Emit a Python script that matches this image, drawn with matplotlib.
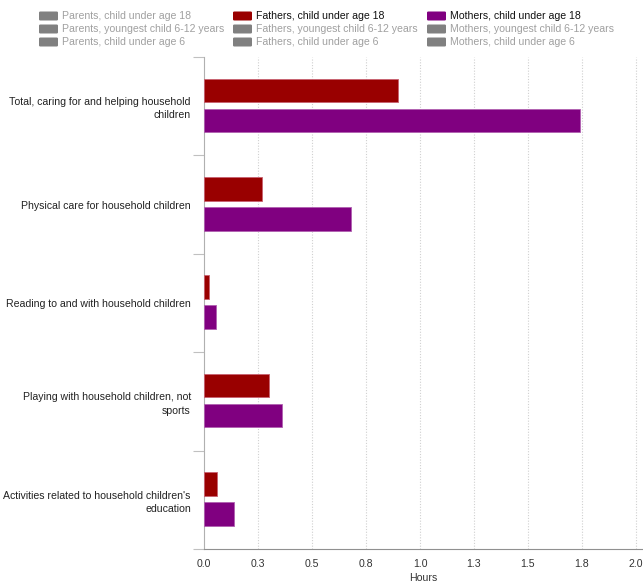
import numpy as np
import matplotlib.pyplot as plt
from matplotlib.patches import FancyBboxPatch

plt.rcParams['font.family'] = ['Liberation Sans', 'DejaVu Sans']

# 数据
categories = [
    'Total, caring for and helping household\nchildren',
    'Physical care for household children',
    'Reading to and with household children',
    'Playing with household children, not\nsports',
    "Activities related to household children's\neducation",
]
fathers = [0.90, 0.27, 0.025, 0.30, 0.06]
mothers = [1.74, 0.68, 0.055, 0.36, 0.14]

x_ticks = [0.0, 0.25, 0.5, 0.75, 1.0, 1.25, 1.5, 1.75, 2.0]
x_tick_labels = ['0.0', '0.3', '0.5', '0.8', '1.0', '1.3', '1.5', '1.8', '2.0']

legend_cols = [
    ['Parents, child under age 18', 'Parents, youngest child 6-12 years', 'Parents, child under age 6'],
    ['Fathers, child under age 18', 'Fathers, youngest child 6-12 years', 'Fathers, child under age 6'],
    ['Mothers, child under age 18', 'Mothers, youngest child 6-12 years', 'Mothers, child under age 6'],
]
legend_active = [[False, False, False], [True, False, False], [True, False, False]]

c_fathers = '#990000'
c_mothers = '#800080'
c_off = '#808080'

W, H = 643, 588
fig = plt.figure(figsize=(W / 100, H / 100), dpi=100)

# 坐标区（像素位置）
left, right, top, bottom = 204, 643, 57, 549
ax = fig.add_axes([left / W, (H - bottom) / H, (right - left) / W, (bottom - top) / H])

y = np.arange(len(categories))
h = 0.24
ax.barh(y - 0.16, fathers, height=h, color=c_fathers, edgecolor='#c86070', linewidth=0.6, zorder=3)
ax.barh(y + 0.145, mothers, height=h, color=c_mothers, edgecolor='#b060b0', linewidth=0.6, zorder=3)

ax.set_xlim(0, (right - left) / 216)
ax.set_ylim(len(categories) - 0.5, -0.5)

# 网格线
for t in x_ticks[1:]:
    ax.axvline(t, color='#d0d0d0', linestyle=(0, (1, 1.5)), linewidth=0.8, zorder=1)

ax.set_xticks(x_ticks)
ax.set_xticklabels(x_tick_labels, fontsize=7.6, color='#333333')
ax.tick_params(axis='x', length=0, pad=7)
ax.set_xlabel('Hours', fontsize=7.6, color='#333333', labelpad=3)

# 类别分隔刻度
ax.set_yticks(np.arange(len(categories) + 1) - 0.5, minor=True)
ax.set_yticks(y)
ax.set_yticklabels(categories, fontsize=7.6, color='#222222')
for lbl in ax.get_yticklabels():
    lbl.set_linespacing(1.4)
ax.tick_params(axis='y', which='major', length=0, pad=9.5)
ax.tick_params(axis='y', which='minor', length=8, color='#c0c0c0', width=0.8)

for s in ['top', 'right']:
    ax.spines[s].set_visible(False)
ax.spines['left'].set_color('#b0b0b0')
ax.spines['bottom'].set_color('#909090')
ax.spines['left'].set_linewidth(0.8)
ax.spines['bottom'].set_linewidth(0.8)

# 图例
col_x = [39, 233, 427]
row_y = [16, 29, 42]
for ci, col in enumerate(legend_cols):
    for ri, lab in enumerate(col):
        active = legend_active[ci][ri]
        if active:
            fc = c_fathers if ci == 1 else c_mothers
            tc = '#111111'
        else:
            fc = c_off
            tc = '#a0a0a0'
        px, py = col_x[ci], row_y[ri]
        fig.patches.append(FancyBboxPatch(
            (px / W, (H - py - 4.5) / H), 19 / W, 9 / H,
            boxstyle='round,pad=0,rounding_size=0.002',
            transform=fig.transFigure, facecolor=fc, edgecolor='none'))
        fig.text((px + 23) / W, (H - py) / H, lab, fontsize=7.6, color=tc,
                 va='center', ha='left')

fig.savefig('out.png', dpi=100)
